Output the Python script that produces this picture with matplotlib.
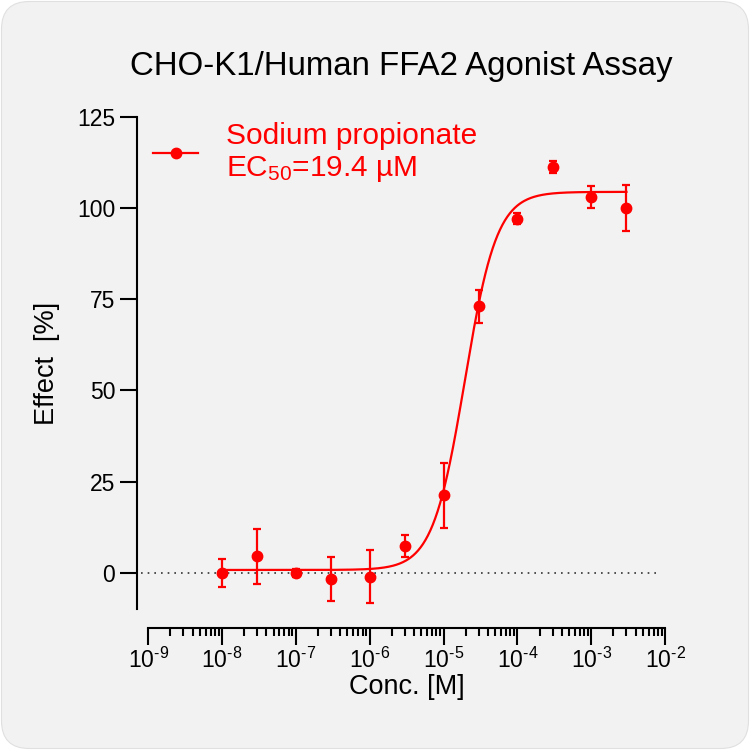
import numpy as np
import matplotlib
matplotlib.use('Agg')
import matplotlib.pyplot as plt
from matplotlib.patches import FancyBboxPatch
from matplotlib.lines import Line2D
from matplotlib.ticker import LogLocator, FixedLocator, FixedFormatter, NullFormatter

plt.rcParams['font.family'] = ['Liberation Sans', 'DejaVu Sans']
plt.rcParams['mathtext.fontset'] = 'custom'
plt.rcParams['mathtext.rm'] = 'Liberation Sans'
plt.rcParams['mathtext.it'] = 'Liberation Sans:italic'
plt.rcParams['mathtext.bf'] = 'Liberation Sans:bold'
plt.rcParams['axes.unicode_minus'] = False

# ---- data ----
conc = [1e-8, 3e-8, 1e-7, 3e-7, 1e-6, 3e-6, 1e-5, 3e-5, 1e-4, 3e-4, 1e-3, 3e-3]
effect = [0.0, 4.5, 0.0, -1.6, -1.0, 7.4, 21.3, 73.1, 97.0, 111.2, 102.9, 100.0]
sem = [3.9, 7.5, 1.0, 6.0, 7.2, 3.0, 8.9, 4.5, 1.5, 1.7, 3.0, 6.2]

fit_bottom = 0.8
fit_top = 104.4
fit_ec50 = 19.4e-6
fit_hill = 2.0

yticks = [0, 25, 50, 75, 100, 125]
xticks = [1e-9, 1e-8, 1e-7, 1e-6, 1e-5, 1e-4, 1e-3, 1e-2]
xtick_exponents = ['-9', '-8', '-7', '-6', '-5', '-4', '-3', '-2']

title = 'CHO-K1/Human FFA2 Agonist Assay'
legend_label = 'Sodium propionate\nEC$_{50}$=19.4 µM'
red = '#ff0000'

fig = plt.figure(figsize=(7.5, 7.5), dpi=100)
fig.patch.set_facecolor('white')
bg = FancyBboxPatch((0.002, 0.002), 0.996, 0.996,
                    boxstyle='round,pad=0,rounding_size=0.037',
                    transform=fig.transFigure, facecolor='#f2f2f2',
                    edgecolor='#e0e0e0', lw=0.8, zorder=-10)
fig.patches.append(bg)

ax = fig.add_axes([0.1976, 0.1875, 0.6891, 0.6569])
ax.set_facecolor('none')
ax.set_xscale('log')
ax.set_xlim(1e-9, 1e-2)
ax.set_ylim(-10, 125)

for s in ['top', 'right']:
    ax.spines[s].set_visible(False)
ax.spines['left'].set_position(('outward', 7.9))
ax.spines['bottom'].set_position(('outward', 13.4))
for s in ['left', 'bottom']:
    ax.spines[s].set_linewidth(1.5)

ax.xaxis.set_major_locator(FixedLocator(xticks))
ax.xaxis.set_major_formatter(FixedFormatter(['10$^{\\text{%s}}$' % e for e in xtick_exponents]))
ax.xaxis.set_minor_locator(LogLocator(base=10, subs=np.arange(2, 10), numticks=20))
ax.xaxis.set_minor_formatter(NullFormatter())
ax.yaxis.set_major_locator(FixedLocator(yticks))

ax.tick_params(axis='both', which='major', length=12.2, width=1.5, labelsize=16.5, color='black')
ax.tick_params(axis='y', which='major', pad=3.6)
ax.tick_params(axis='x', which='major', pad=2)
ax.tick_params(axis='x', which='minor', length=5.8, width=1.5)

# dotted baseline
ax.axhline(0, xmin=-0.0145, xmax=0.992, color='#333333', ls=(0, (1, 3)), lw=1.2, clip_on=False, zorder=1)

# fitted curve
xs = np.logspace(np.log10(conc[0]), np.log10(conc[-1]), 500)
ys = fit_bottom + (fit_top - fit_bottom) / (1 + 10 ** (fit_hill * (np.log10(fit_ec50) - np.log10(xs))))
ax.plot(xs, ys, color=red, lw=1.6, zorder=2)

ax.errorbar(conc, effect, yerr=sem, fmt='o', color=red, ms=7.5,
            capsize=3.2, elinewidth=1.6, capthick=1.6, zorder=3)

ax.set_xlabel('Conc. [M]', fontsize=19.5, labelpad=1)
ax.set_ylabel('Effect  [%]', fontsize=19.5, labelpad=12)
fig.text(0.535, 0.912, title, fontsize=23.8, ha='center', va='center')

handle = Line2D([], [], color=red, marker='o', ms=7.5, lw=1.6)
leg = ax.legend([handle], [legend_label], loc='upper left',
                bbox_to_anchor=(0.0097, 0.99), frameon=False, fontsize=21.5,
                labelcolor=red, handlelength=1.5, handletextpad=0.95,
                borderpad=0, borderaxespad=0)

fig.savefig('out.png', dpi=100, facecolor=fig.get_facecolor())
